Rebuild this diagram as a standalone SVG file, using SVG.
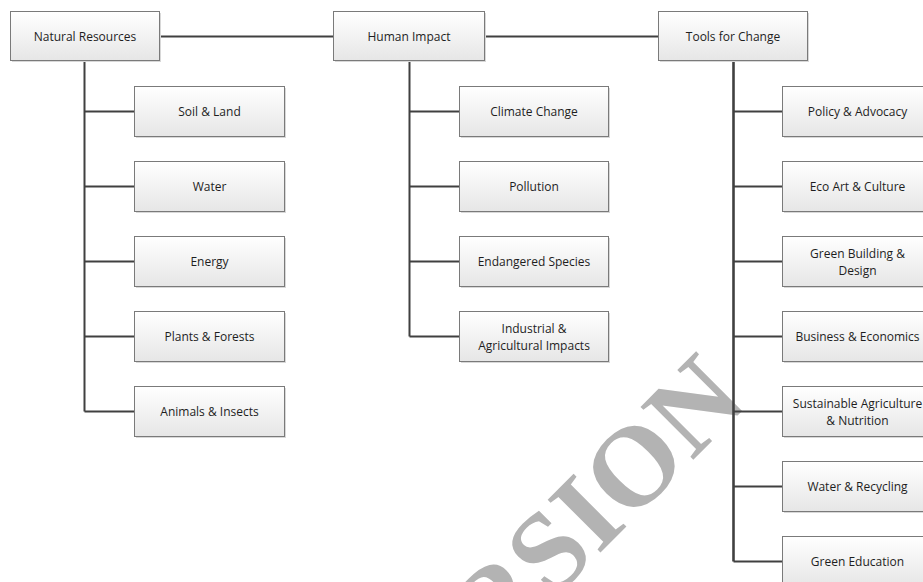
<svg xmlns="http://www.w3.org/2000/svg" width="923" height="582" viewBox="0 0 923 582">
<defs>
<linearGradient id="g" x1="0" y1="0" x2="0" y2="1">
<stop offset="0" stop-color="#ffffff"/>
<stop offset="1" stop-color="#e6e6e6"/>
</linearGradient>
</defs>
<style>
.box{fill:url(#g);stroke:#7a7a7a;stroke-width:1}
.sh{fill:#d8d8d8}
.lbl{font-family:"Open Sans","Liberation Sans",sans-serif;font-size:12px;fill:#1e1e1e;text-anchor:middle;dominant-baseline:central}
.con{stroke:#404040;stroke-width:2;fill:none}
.wm{font-family:"Liberation Serif",serif;font-weight:bold;font-size:114px;fill:#b3b3b3;text-anchor:end}
</style>
<rect width="923" height="582" fill="#ffffff"/>
<text class="wm" transform="translate(750,403) rotate(-45)">VERSION</text>
<g id="connectors">
<path class="con" d="M159.5 36.5H333.5M484.5 36.5H658.5"/>
<path class="con" d="M84.5 61V411.5M84.5 111.5H134.5M84.5 186.5H134.5M84.5 261.5H134.5M84.5 336.5H134.5M84.5 411.5H134.5"/>
<path class="con" d="M409.5 61V336.5M409.5 111.5H459.5M409.5 186.5H459.5M409.5 261.5H459.5M409.5 336.5H459.5"/>
<path class="con" d="M733.5 61V561.5" style="stroke-width:2.6"/>
<path class="con" d="M733.5 111.5H782.5M733.5 186.5H782.5M733.5 261.5H782.5M733.5 336.5H782.5M733.5 411.5H782.5M733.5 486.5H782.5M733.5 561.5H782.5"/>
</g>
<g id="natural-resources"><rect class="sh" x="12" y="13" width="149" height="49"/><rect class="box" x="10.5" y="11.5" width="149" height="49"/><text class="lbl" x="85" y="36.5">Natural Resources</text></g>
<g id="human-impact"><rect class="sh" x="335" y="13" width="151" height="49"/><rect class="box" x="333.5" y="11.5" width="151" height="49"/><text class="lbl" x="409" y="36.5">Human Impact</text></g>
<g id="tools-for-change"><rect class="sh" x="660" y="13" width="149" height="49"/><rect class="box" x="658.5" y="11.5" width="149" height="49"/><text class="lbl" x="733" y="36.5">Tools for Change</text></g>

<g id="soil-land"><rect class="sh" x="136" y="88" width="150" height="50"/><rect class="box" x="134.5" y="86.5" width="150" height="50"/><text class="lbl" x="209.5" y="111.5">Soil &amp; Land</text></g>
<g id="water"><rect class="sh" x="136" y="163" width="150" height="50"/><rect class="box" x="134.5" y="161.5" width="150" height="50"/><text class="lbl" x="209.5" y="186.5">Water</text></g>
<g id="energy"><rect class="sh" x="136" y="238" width="150" height="50"/><rect class="box" x="134.5" y="236.5" width="150" height="50"/><text class="lbl" x="209.5" y="261.5">Energy</text></g>
<g id="plants-forests"><rect class="sh" x="136" y="313" width="150" height="50"/><rect class="box" x="134.5" y="311.5" width="150" height="50"/><text class="lbl" x="209.5" y="336.5">Plants &amp; Forests</text></g>
<g id="animals-insects"><rect class="sh" x="136" y="388" width="150" height="50"/><rect class="box" x="134.5" y="386.5" width="150" height="50"/><text class="lbl" x="209.5" y="411.5">Animals &amp; Insects</text></g>

<g id="climate-change"><rect class="sh" x="461" y="88" width="149" height="50"/><rect class="box" x="459.5" y="86.5" width="149" height="50"/><text class="lbl" x="534" y="111.5">Climate Change</text></g>
<g id="pollution"><rect class="sh" x="461" y="163" width="149" height="50"/><rect class="box" x="459.5" y="161.5" width="149" height="50"/><text class="lbl" x="534" y="186.5">Pollution</text></g>
<g id="endangered-species"><rect class="sh" x="461" y="238" width="149" height="50"/><rect class="box" x="459.5" y="236.5" width="149" height="50"/><text class="lbl" x="534" y="261.5">Endangered Species</text></g>
<g id="industrial-agricultural"><rect class="sh" x="461" y="313" width="149" height="50"/><rect class="box" x="459.5" y="311.5" width="149" height="50"/><text class="lbl" x="534" y="328">Industrial &amp;</text><text class="lbl" x="534" y="345">Agricultural Impacts</text></g>

<g id="policy-advocacy"><rect class="sh" x="784" y="88" width="150" height="50"/><rect class="box" x="782.5" y="86.5" width="150" height="50"/><text class="lbl" x="857.5" y="111.5">Policy &amp; Advocacy</text></g>
<g id="eco-art-culture"><rect class="sh" x="784" y="163" width="150" height="50"/><rect class="box" x="782.5" y="161.5" width="150" height="50"/><text class="lbl" x="857.5" y="186.5">Eco Art &amp; Culture</text></g>
<g id="green-building"><rect class="sh" x="784" y="238" width="150" height="50"/><rect class="box" x="782.5" y="236.5" width="150" height="50"/><text class="lbl" x="857.5" y="253">Green Building &amp;</text><text class="lbl" x="857.5" y="270">Design</text></g>
<g id="business-economics"><rect class="sh" x="784" y="313" width="150" height="50"/><rect class="box" x="782.5" y="311.5" width="150" height="50"/><text class="lbl" x="857.5" y="336.5">Business &amp; Economics</text></g>
<g id="sustainable-agriculture"><rect class="sh" x="784" y="388" width="150" height="50"/><rect class="box" x="782.5" y="386.5" width="150" height="50"/><text class="lbl" x="857.5" y="403">Sustainable Agriculture</text><text class="lbl" x="857.5" y="420">&amp; Nutrition</text></g>
<g id="water-recycling"><rect class="sh" x="784" y="463" width="150" height="50"/><rect class="box" x="782.5" y="461.5" width="150" height="50"/><text class="lbl" x="857.5" y="486.5">Water &amp; Recycling</text></g>
<g id="green-education"><rect class="sh" x="784" y="538" width="150" height="50"/><rect class="box" x="782.5" y="536.5" width="150" height="50"/><text class="lbl" x="857.5" y="561.5">Green Education</text></g>
</svg>
